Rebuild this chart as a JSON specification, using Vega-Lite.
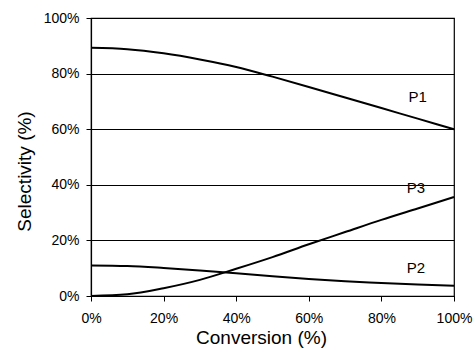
{
  "$schema": "https://vega.github.io/schema/vega-lite/v6.json",
  "width": 363,
  "height": 278,
  "autosize": {"type": "none"},
  "padding": {"left": 91, "top": 18, "right": 19, "bottom": 58},
  "background": "white",
  "config": {
    "font": "Liberation Sans",
    "view": {"stroke": "black", "strokeWidth": 1.2},
    "axis": {
      "labelFont": "Liberation Sans",
      "titleFont": "Liberation Sans",
      "labelColor": "black",
      "titleColor": "black",
      "labelFontSize": 14,
      "titleFontSize": 19,
      "titleFontWeight": "normal",
      "domainColor": "black",
      "domainWidth": 1.2,
      "tickColor": "black",
      "tickSize": 5,
      "gridColor": "black",
      "gridOpacity": 1,
      "gridWidth": 1,
      "labelFlush": false
    }
  },
  "datasets": {
    "curves": [
      {"conv": 0, "sel": 89.3, "s": "P1"},
      {"conv": 10, "sel": 88.8, "s": "P1"},
      {"conv": 20, "sel": 87.3, "s": "P1"},
      {"conv": 30, "sel": 85.1, "s": "P1"},
      {"conv": 40, "sel": 82.4, "s": "P1"},
      {"conv": 50, "sel": 78.9, "s": "P1"},
      {"conv": 60, "sel": 75.2, "s": "P1"},
      {"conv": 70, "sel": 71.4, "s": "P1"},
      {"conv": 80, "sel": 67.6, "s": "P1"},
      {"conv": 90, "sel": 63.8, "s": "P1"},
      {"conv": 100, "sel": 60.0, "s": "P1"},
      {"conv": 0, "sel": 11.0, "s": "P2"},
      {"conv": 10, "sel": 10.8, "s": "P2"},
      {"conv": 20, "sel": 10.1, "s": "P2"},
      {"conv": 30, "sel": 9.2, "s": "P2"},
      {"conv": 40, "sel": 8.2, "s": "P2"},
      {"conv": 50, "sel": 7.1, "s": "P2"},
      {"conv": 60, "sel": 6.1, "s": "P2"},
      {"conv": 70, "sel": 5.3, "s": "P2"},
      {"conv": 80, "sel": 4.7, "s": "P2"},
      {"conv": 90, "sel": 4.1, "s": "P2"},
      {"conv": 100, "sel": 3.7, "s": "P2"},
      {"conv": 0, "sel": 0.0, "s": "P3"},
      {"conv": 10, "sel": 0.6, "s": "P3"},
      {"conv": 20, "sel": 2.8, "s": "P3"},
      {"conv": 30, "sel": 5.8, "s": "P3"},
      {"conv": 40, "sel": 9.8, "s": "P3"},
      {"conv": 50, "sel": 14.0, "s": "P3"},
      {"conv": 60, "sel": 18.6, "s": "P3"},
      {"conv": 70, "sel": 23.0, "s": "P3"},
      {"conv": 80, "sel": 27.4, "s": "P3"},
      {"conv": 90, "sel": 31.5, "s": "P3"},
      {"conv": 100, "sel": 35.6, "s": "P3"}
    ],
    "labels": [
      {"conv": 90, "sel": 71.6, "s": "P1"},
      {"conv": 89.5, "sel": 38.8, "s": "P3"},
      {"conv": 89.5, "sel": 10.0, "s": "P2"}
    ]
  },
  "layer": [
    {
      "data": {"name": "curves"},
      "mark": {"type": "line", "interpolate": "monotone", "strokeWidth": 2, "color": "black"},
      "encoding": {
        "x": {
          "field": "conv", "type": "quantitative",
          "scale": {"domain": [0, 100], "nice": false},
          "axis": {"values": [0, 20, 40, 60, 80, 100], "labelExpr": "datum.value + '%'", "grid": false, "title": "Conversion (%)", "labelPadding": 10, "titlePadding": 3, "titleX": 170}
        },
        "y": {
          "field": "sel", "type": "quantitative",
          "scale": {"domain": [0, 100], "nice": false},
          "axis": {"values": [0, 20, 40, 60, 80, 100], "labelExpr": "datum.value + '%'", "grid": true, "title": "Selectivity (%)", "labelPadding": 7, "titlePadding": 9, "titleY": 153}
        },
        "detail": {"field": "s"}
      }
    },
    {
      "data": {"name": "labels"},
      "mark": {"type": "text", "fontSize": 15, "color": "black", "font": "Liberation Sans"},
      "encoding": {
        "x": {"field": "conv", "type": "quantitative"},
        "y": {"field": "sel", "type": "quantitative"},
        "text": {"field": "s"}
      }
    }
  ]
}
